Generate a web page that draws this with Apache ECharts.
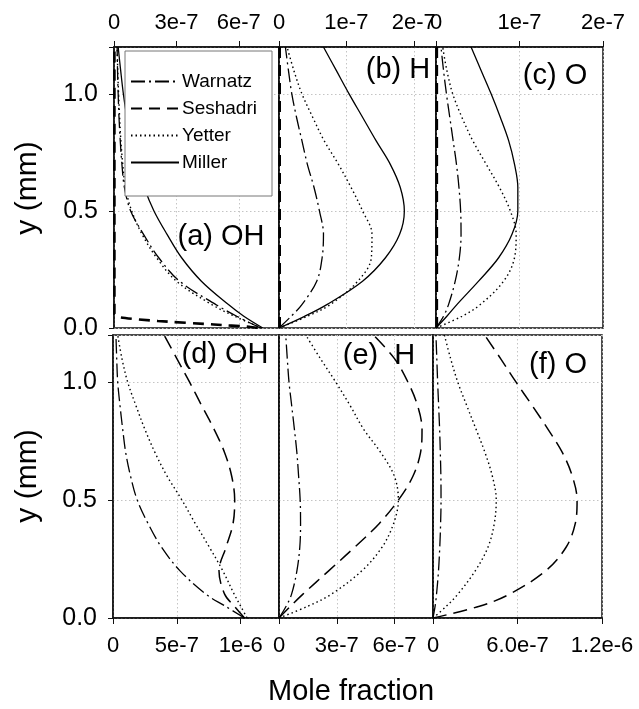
<!DOCTYPE html>
<html>
<head>
<meta charset="utf-8">
<script src="https://cdn.jsdelivr.net/npm/echarts@6/dist/echarts.min.js"></script>
<style>html,body{margin:0;padding:0;background:#fff;}#c{width:639px;height:709px;}</style>
</head>
<body>
<div id="c"></div>
<script>
// ---------- DATA ----------
// common y positions (mm)
const yMM = [0, 0.05, 0.1, 0.2, 0.3, 0.4, 0.5, 0.6, 0.7, 0.8, 0.9, 1.0, 1.1, 1.2];
// y positions for the Seshadri curves of the top row
const yMMSeshTop = [0, 0.005, 0.015, 0.03, 0.045, 0.06, 0.3, 0.6, 0.9, 1.2];

// (a) OH - top row
const ohTopWarnatz  = [7.05e-7, 5.9e-7, 4.9e-7, 3.15e-7, 2.15e-7, 1.42e-7, 8e-8, 5e-8, 3.8e-8, 3e-8, 2.4e-8, 2e-8, 1.7e-8, 1.5e-8];
const ohTopYetter   = [7.1e-7, 5.8e-7, 4.7e-7, 3.0e-7, 2.05e-7, 1.35e-7, 8.5e-8, 5.5e-8, 4.2e-8, 3.3e-8, 2.7e-8, 2.2e-8, 1.8e-8, 1.5e-8];
const ohTopMiller   = [7.15e-7, 6.24e-7, 5.5e-7, 4.2e-7, 3.25e-7, 2.55e-7, 1.92e-7, 1.45e-7, 1.1e-7, 8.5e-8, 6.2e-8, 4.5e-8, 3.2e-8, 2e-8];
const ohTopSeshadri = [6.9e-7, 6.5e-7, 4.8e-7, 2.1e-7, 3e-8, 2e-9, 2e-9, 2e-9, 2e-9, 2e-9];

// (b) H - top row
const hTopWarnatz  = [0, 1.8e-8, 3.4e-8, 5.6e-8, 6.4e-8, 6.6e-8, 6e-8, 5.2e-8, 4.2e-8, 3.4e-8, 2.6e-8, 1.9e-8, 1.4e-8, 9.5e-9];
const hTopYetter   = [0, 4.2e-8, 7.6e-8, 1.17e-7, 1.37e-7, 1.38e-7, 1.24e-7, 1.07e-7, 8.8e-8, 6.7e-8, 5e-8, 3.4e-8, 2.2e-8, 1.2e-8];
const hTopMiller   = [0, 3.8e-8, 7.1e-8, 1.24e-7, 1.58e-7, 1.79e-7, 1.86e-7, 1.8e-7, 1.65e-7, 1.44e-7, 1.24e-7, 1.04e-7, 8.5e-8, 6.6e-8];
const hTopSeshadri = [1e-9, 1e-9, 1e-9, 1e-9, 1e-9, 1e-9, 1e-9, 1e-9, 1e-9, 1e-9];

// (c) O - top row
const oTopWarnatz  = [0, 9e-9, 1.5e-8, 2.3e-8, 2.8e-8, 3e-8, 2.95e-8, 2.75e-8, 2.45e-8, 2.05e-8, 1.65e-8, 1.25e-8, 9e-9, 6e-9];
const oTopYetter   = [0, 3.1e-8, 5.3e-8, 8.1e-8, 9.4e-8, 9.6e-8, 8.9e-8, 7.6e-8, 6e-8, 4.4e-8, 3.1e-8, 2e-8, 1.3e-8, 8e-9];
const oTopMiller   = [0, 1.3e-8, 2.5e-8, 5.1e-8, 7.5e-8, 9.1e-8, 9.8e-8, 9.8e-8, 9.4e-8, 8.7e-8, 7.7e-8, 6.6e-8, 5.4e-8, 4.2e-8];
const oTopSeshadri = [1e-9, 1e-9, 1e-9, 1e-9, 1e-9, 1e-9, 1e-9, 1e-9, 1e-9, 1e-9];

// (d) OH - bottom row
const ohBotWarnatz  = [1.03e-6, 8.8e-7, 7.3e-7, 5.25e-7, 3.8e-7, 2.75e-7, 1.9e-7, 1.38e-7, 1e-7, 7.6e-8, 5.5e-8, 3.7e-8, 2.9e-8, 2.3e-8];
const ohBotSeshadri = [1.03e-6, 9.5e-7, 8.75e-7, 8.3e-7, 8.85e-7, 9.4e-7, 9.53e-7, 9.3e-7, 8.75e-7, 7.92e-7, 6.95e-7, 6e-7, 5e-7, 4e-7];
const ohBotYetter   = [1.05e-6, 1.0e-6, 9.5e-7, 8.6e-7, 7.55e-7, 6.45e-7, 5.4e-7, 4.25e-7, 3.3e-7, 2.5e-7, 1.8e-7, 1.15e-7, 7e-8, 3.7e-8];

// (e) H - bottom row
const hBotWarnatz  = [0, 3.7e-8, 6.5e-8, 9.3e-8, 1.08e-7, 1.12e-7, 1.1e-7, 1.02e-7, 9.3e-8, 8e-8, 6.6e-8, 5.2e-8, 4.3e-8, 3.5e-8];
const hBotSeshadri = [0, 6e-8, 1.23e-7, 2.58e-7, 3.93e-7, 5.2e-7, 6.2e-7, 6.95e-7, 7.35e-7, 7.43e-7, 7.2e-7, 6.7e-7, 6e-7, 4.9e-7];
const hBotYetter   = [0, 1.5e-7, 2.7e-7, 4.3e-7, 5.35e-7, 5.95e-7, 6.2e-7, 6.0e-7, 5.3e-7, 4.4e-7, 3.7e-7, 2.95e-7, 2.15e-7, 1.39e-7];

// (f) O - bottom row
const oBotWarnatz  = [0, 1.5e-8, 2.5e-8, 3.9e-8, 4.8e-8, 5.4e-8, 5.7e-8, 5.6e-8, 5.2e-8, 4.7e-8, 4e-8, 3.3e-8, 2.7e-8, 2.1e-8];
const oBotSeshadri = [0, 3.3e-7, 5.4e-7, 8.0e-7, 9.45e-7, 1.01e-6, 1.023e-6, 9.9e-7, 9.2e-7, 8.17e-7, 7.05e-7, 5.9e-7, 4.8e-7, 3.66e-7];
const oBotYetter   = [0, 9.5e-8, 1.75e-7, 3.0e-7, 3.9e-7, 4.35e-7, 4.49e-7, 4.22e-7, 3.7e-7, 3.06e-7, 2.4e-7, 1.76e-7, 1.25e-7, 8.1e-8];

// tick values / labels
const xTickValsA = [0, 3e-7, 6e-7];   const xTickLabsA = ['0', '3e-7', '6e-7'];
const xTickValsB = [0, 1e-7, 2e-7];   const xTickLabsB = ['0', '1e-7', '2e-7'];
const xTickValsC = [0, 1e-7, 2e-7];   const xTickLabsC = ['0', '1e-7', '2e-7'];
const xTickValsD = [0, 5e-7, 1e-6];   const xTickLabsD = ['0', '5e-7', '1e-6'];
const xTickValsE = [0, 3e-7, 6e-7];   const xTickLabsE = ['0', '3e-7', '6e-7'];
const xTickValsF = [0, 6e-7, 1.2e-6]; const xTickLabsF = ['0', '6.0e-7', '1.2e-6'];
const yTickVals = [0, 0.5, 1.0];      const yTickLabs = ['0.0', '0.5', '1.0'];
const xMaxes = [7.93e-7, 2.33e-7, 2e-7, 1.3e-6, 8e-7, 1.2e-6];
const xIntervals = [3e-7, 1e-7, 1e-7, 5e-7, 3e-7, 6e-7];
const legendNames = ['Warnatz', 'Seshadri', 'Yetter', 'Miller'];
const panelLabels = ['(a) OH', '(b) H', '(c) O', '(d) OH', '(e)  H', '(f) O'];

// ---------- BUILD ----------
const FONT = 'Liberation Sans, Arial, sans-serif';
function pairs(xs, ys) { return xs.map((x, i) => [x, ys[i]]); }
function fmtFrom(vals, labs) {
  return function (v) {
    for (let i = 0; i < vals.length; i++) {
      if (Math.abs(v - vals[i]) <= Math.abs(vals[i]) * 1e-6 + 1e-15) return labs[i];
    }
    return '';
  };
}
const tickSets = [[xTickValsA, xTickLabsA], [xTickValsB, xTickLabsB], [xTickValsC, xTickLabsC],
                  [xTickValsD, xTickLabsD], [xTickValsE, xTickLabsE], [xTickValsF, xTickLabsF]];

const grids = [
  {left: 114, top: 47, width: 165, height: 281},
  {left: 279, top: 47, width: 157, height: 281},
  {left: 436, top: 47, width: 167, height: 281},
  {left: 113, top: 335, width: 166, height: 283},
  {left: 279, top: 335, width: 154, height: 283},
  {left: 433, top: 335, width: 169, height: 283}
].map(g => Object.assign(g, {show: true, borderColor: '#111', borderWidth: 1.5, backgroundColor: 'transparent', containLabel: false}));

const splitStyle = {show: true, lineStyle: {color: '#c4c4c4', type: [1.5, 2.5], width: 1}};

const xAxes = grids.map((g, i) => ({
  type: 'value', gridIndex: i, min: 0, max: xMaxes[i], interval: xIntervals[i],
  position: i < 3 ? 'top' : 'bottom',
  axisLine: {show: true, onZero: false, lineStyle: {color: '#111', width: 1.5}},
  axisTick: {show: true, length: 6, lineStyle: {color: '#111', width: 1}},
  axisLabel: {show: true, showMinLabel: true, showMaxLabel: true, margin: i < 3 ? 13 : 17,
    fontSize: 22, fontFamily: FONT, color: '#000', formatter: fmtFrom(tickSets[i][0], tickSets[i][1])},
  splitLine: splitStyle
}));

const yAxes = grids.map((g, i) => ({
  type: 'value', gridIndex: i, min: 0, max: 1.2, interval: 0.5,
  axisLine: {show: true, onZero: false, lineStyle: {color: '#111', width: 1.5}},
  axisTick: {show: (i === 0 || i === 3), length: 5, lineStyle: {color: '#111'}},
  axisLabel: {show: (i === 0 || i === 3), showMinLabel: true, showMaxLabel: true, margin: 16,
    fontSize: 25, fontFamily: FONT, color: '#000', formatter: fmtFrom(yTickVals, yTickLabs)},
  splitLine: splitStyle
}));

const STY = {
  Warnatz: {type: [14, 4, 2, 4], width: 1.3},
  SeshadriTop: {type: [11, 7], width: 2.6},
  Seshadri: {type: [14, 7], width: 1.5},
  Yetter: {type: [1.5, 3], width: 1.4},
  Miller: {type: 'solid', width: 1.3}
};
function mk(name, panel, xs, ys, styKey, smooth) {
  const s = STY[styKey || name];
  return {
    type: 'line', name: name, xAxisIndex: panel, yAxisIndex: panel,
    data: pairs(xs, ys), showSymbol: false, symbol: 'none',
    smooth: smooth === undefined ? 0.35 : smooth, animation: false, silent: true,
    itemStyle: {color: '#000', opacity: 0},
    lineStyle: {color: '#000', width: s.width, type: s.type, opacity: 1}, z: 2
  };
}
const series = [
  mk('Warnatz', 0, ohTopWarnatz, yMM), mk('Seshadri', 0, ohTopSeshadri, yMMSeshTop, 'SeshadriTop', 0.2),
  mk('Yetter', 0, ohTopYetter, yMM), mk('Miller', 0, ohTopMiller, yMM),
  mk('Warnatz', 1, hTopWarnatz, yMM), mk('Seshadri', 1, hTopSeshadri, yMMSeshTop, 'SeshadriTop', 0),
  mk('Yetter', 1, hTopYetter, yMM), mk('Miller', 1, hTopMiller, yMM),
  mk('Warnatz', 2, oTopWarnatz, yMM), mk('Seshadri', 2, oTopSeshadri, yMMSeshTop, 'SeshadriTop', 0),
  mk('Yetter', 2, oTopYetter, yMM), mk('Miller', 2, oTopMiller, yMM),
  mk('Warnatz', 3, ohBotWarnatz, yMM), mk('Seshadri', 3, ohBotSeshadri, yMM),
  mk('Yetter', 3, ohBotYetter, yMM),
  mk('Warnatz', 4, hBotWarnatz, yMM), mk('Seshadri', 4, hBotSeshadri, yMM),
  mk('Yetter', 4, hBotYetter, yMM),
  mk('Warnatz', 5, oBotWarnatz, yMM), mk('Seshadri', 5, oBotSeshadri, yMM),
  mk('Yetter', 5, oBotYetter, yMM)
];

const labelPos = [[221, 237], [398, 70], [555, 76], [225, 355], [379, 356], [558, 365]];
const graphics = [
  {type: 'rect', shape: {x: 125, y: 51, width: 147, height: 145}, style: {fill: '#fff', stroke: '#777', lineWidth: 1}, z: 3, silent: true},
  {type: 'text', x: 28, y: 188, rotation: Math.PI / 2, z: 10, silent: true,
   style: {text: 'y (mm)', fontSize: 30, fontFamily: FONT, fill: '#000', align: 'center', verticalAlign: 'middle'}},
  {type: 'text', x: 28, y: 476, rotation: Math.PI / 2, z: 10, silent: true,
   style: {text: 'y (mm)', fontSize: 30, fontFamily: FONT, fill: '#000', align: 'center', verticalAlign: 'middle'}},
  {type: 'text', x: 351, y: 692, z: 10, silent: true,
   style: {text: 'Mole fraction', fontSize: 29, fontFamily: FONT, fill: '#000', align: 'center', verticalAlign: 'middle'}}
].concat(panelLabels.map((t, i) => ({
  type: 'text', x: labelPos[i][0], y: labelPos[i][1], z: 10, silent: true,
  style: {text: t, fontSize: 29, fontFamily: FONT, fill: '#000', align: 'center', verticalAlign: 'middle'}
})));

const chart = echarts.init(document.getElementById('c'), null, {renderer: 'canvas'});
chart.setOption({
  animation: false,
  backgroundColor: '#fff',
  grid: grids,
  xAxis: xAxes,
  yAxis: yAxes,
  legend: {
    data: legendNames, orient: 'vertical', left: 130, top: 72, padding: 0,
    itemWidth: 48, itemHeight: 14, itemGap: 8, selectedMode: false, z: 5,
    itemStyle: {opacity: 0, color: 'rgba(0,0,0,0)', borderWidth: 0},
    lineStyle: {color: '#000', opacity: 1},
    textStyle: {fontSize: 19, lineHeight: 19, fontFamily: FONT, color: '#000', padding: [0, 0, 0, -2]}
  },
  graphic: graphics,
  series: series
});
</script>
</body>
</html>
